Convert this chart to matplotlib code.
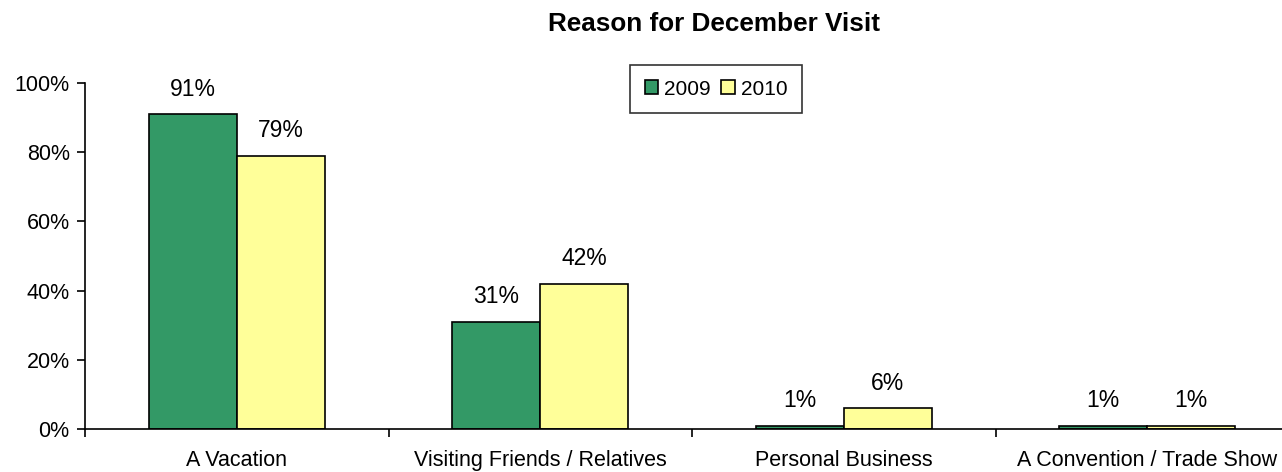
import matplotlib.pyplot as plt
import numpy as np

plt.rcParams['font.family'] = ['Liberation Sans', 'DejaVu Sans']

categories = ['A Vacation', 'Visiting Friends / Relatives', 'Personal Business', 'A Convention / Trade Show']
years = ['2009', '2010']
v2009 = [91, 31, 1, 1]
v2010 = [79, 42, 6, 1]
colors = ['#339966', '#FFFF99']

fig = plt.figure(figsize=(12.82, 4.72), dpi=100)
ax = fig.add_axes([85 / 1282, 43 / 472, 1 - 85 / 1282, 346 / 472])

x = np.arange(len(categories))
w = 0.29
for i, (vals, c, lab) in enumerate(zip([v2009, v2010], colors, years)):
    pos = x + (i - 0.5) * w
    ax.bar(pos, vals, w, color=c, edgecolor='black', linewidth=1.2, label=lab)
    for xp, v in zip(pos, vals):
        ax.annotate(f'{v}%', (xp, v), xytext=(0, 18), textcoords='offset points',
                    ha='center', va='center', fontsize=16.5)

ax.set_yticks(range(0, 101, 20))
ax.set_yticklabels([f'{t}%' for t in range(0, 101, 20)], fontsize=15.5)
ax.set_xticks(x)
ax.set_xticklabels(categories, fontsize=15.5)
ax.tick_params(axis='x', length=0, pad=15)
ax.set_xticks(np.arange(-0.5, 4, 1), minor=True)
ax.tick_params(axis='x', which='minor', length=6, width=1.2, direction='out')
ax.tick_params(axis='y', length=6, width=1.2, direction='out', pad=5)
ax.set_ylim(0, 100)
ax.set_xlim(-0.5, -0.5 + (1282 - 85) / 303.5)
for s in ['top', 'right']:
    ax.spines[s].set_visible(False)
for s in ['left', 'bottom']:
    ax.spines[s].set_linewidth(1.2)

leg = ax.legend(loc='upper left', bbox_to_anchor=(630 / 1282, 1 - 65 / 472), bbox_transform=fig.transFigure,
                ncol=2, fontsize=15, frameon=True, fancybox=False, handlelength=0.65, handleheight=0.65,
                handletextpad=0.3, columnspacing=0.5, borderpad=0.7, borderaxespad=0)
leg.get_frame().set_edgecolor('black')
leg.get_frame().set_linewidth(1.2)

fig.text(714 / 1282, 1 - 24 / 472, 'Reason for December Visit', ha='center', va='center',
         fontsize=18.8, fontweight='bold')

fig.savefig('out.png', dpi=100)
